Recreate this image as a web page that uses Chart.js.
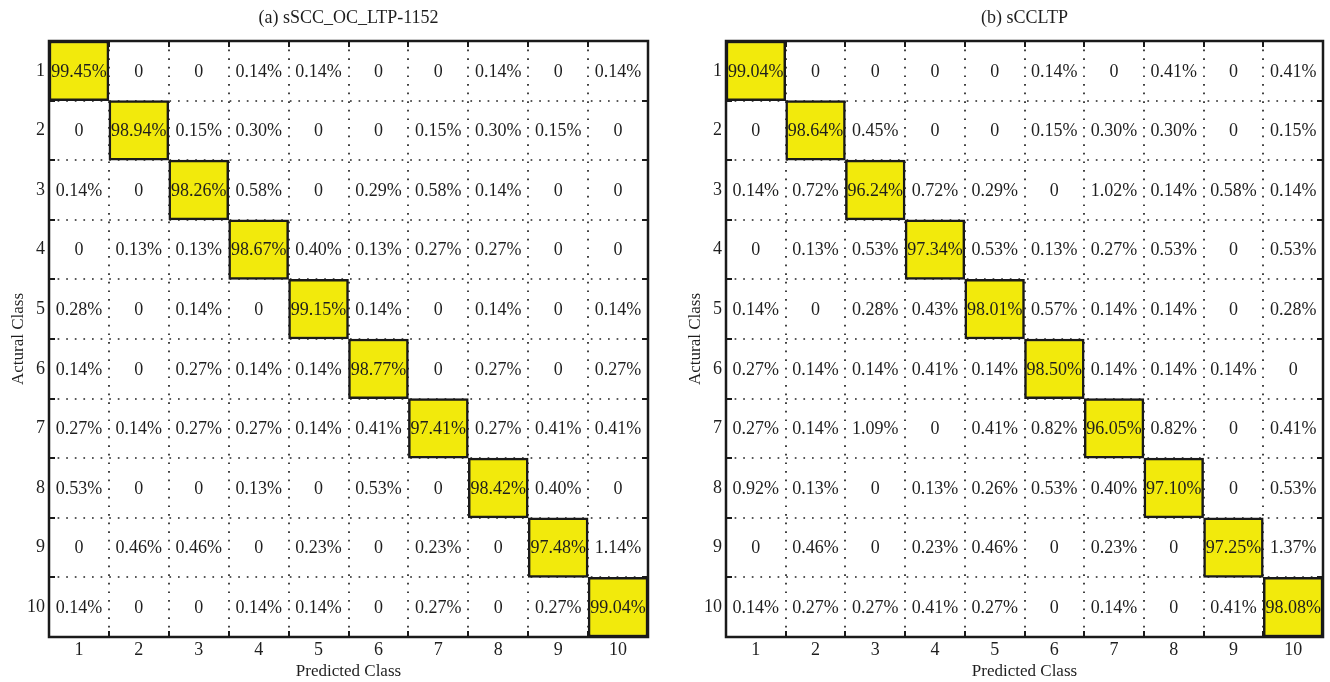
<!DOCTYPE html>
<html>
<head>
<meta charset="utf-8">
<script src="https://cdn.jsdelivr.net/npm/chart.js@4.4.1/dist/chart.umd.min.js"></script>
<style>
  html, body { margin: 0; padding: 0; background: #ffffff; }
  body { width: 1330px; height: 682px; position: relative; overflow: hidden; }
  .panel { position: absolute; top: 0; height: 682px; }
  #panelA { left: 0; width: 677px; }
  #panelB { left: 677px; width: 653px; }
</style>
</head>
<body>
<div class="panel" id="panelA"><canvas id="chartA"></canvas></div>
<div class="panel" id="panelB"><canvas id="chartB"></canvas></div>
<script>
// Class labels shared by both axes
const classLabels = ['1', '2', '3', '4', '5', '6', '7', '8', '9', '10'];

// Confusion matrix rows (actual class) x columns (predicted class), in percent
const matrixA = [
  [99.45, 0, 0, 0.14, 0.14, 0, 0, 0.14, 0, 0.14],
  [0, 98.94, 0.15, 0.30, 0, 0, 0.15, 0.30, 0.15, 0],
  [0.14, 0, 98.26, 0.58, 0, 0.29, 0.58, 0.14, 0, 0],
  [0, 0.13, 0.13, 98.67, 0.40, 0.13, 0.27, 0.27, 0, 0],
  [0.28, 0, 0.14, 0, 99.15, 0.14, 0, 0.14, 0, 0.14],
  [0.14, 0, 0.27, 0.14, 0.14, 98.77, 0, 0.27, 0, 0.27],
  [0.27, 0.14, 0.27, 0.27, 0.14, 0.41, 97.41, 0.27, 0.41, 0.41],
  [0.53, 0, 0, 0.13, 0, 0.53, 0, 98.42, 0.40, 0],
  [0, 0.46, 0.46, 0, 0.23, 0, 0.23, 0, 97.48, 1.14],
  [0.14, 0, 0, 0.14, 0.14, 0, 0.27, 0, 0.27, 99.04]
];

const matrixB = [
  [99.04, 0, 0, 0, 0, 0.14, 0, 0.41, 0, 0.41],
  [0, 98.64, 0.45, 0, 0, 0.15, 0.30, 0.30, 0, 0.15],
  [0.14, 0.72, 96.24, 0.72, 0.29, 0, 1.02, 0.14, 0.58, 0.14],
  [0, 0.13, 0.53, 97.34, 0.53, 0.13, 0.27, 0.53, 0, 0.53],
  [0.14, 0, 0.28, 0.43, 98.01, 0.57, 0.14, 0.14, 0, 0.28],
  [0.27, 0.14, 0.14, 0.41, 0.14, 98.50, 0.14, 0.14, 0.14, 0],
  [0.27, 0.14, 1.09, 0, 0.41, 0.82, 96.05, 0.82, 0, 0.41],
  [0.92, 0.13, 0, 0.13, 0.26, 0.53, 0.40, 97.10, 0, 0.53],
  [0, 0.46, 0, 0.23, 0.46, 0, 0.23, 0, 97.25, 1.37],
  [0.14, 0.27, 0.27, 0.41, 0.27, 0, 0.14, 0, 0.41, 98.08]
];

const titleA = '(a) sSCC_OC_LTP-1152';
const titleB = '(b) sCCLTP';
const xTitle = 'Predicted Class';
const yTitle = 'Actural Class';

const SERIF = '"Liberation Serif", "Times New Roman", serif';
const INK = '#1e1e1e';
const HIGHLIGHT = '#f2ea0c';

function fmt(v) {
  return v === 0 ? '0' : v.toFixed(2) + '%';
}

// Draws dotted cell boundaries, frame, inward ticks, cell values and the panel title
const matrixPlugin = {
  id: 'matrixPlugin',
  beforeDatasetsDraw(chart) {
    const { ctx, chartArea: a, scales: { x, y } } = chart;
    const n = classLabels.length;
    ctx.save();
    ctx.strokeStyle = '#222';
    ctx.lineWidth = 1.7;
    ctx.setLineDash([1.7, 6.9]);
    for (let k = 1; k < n; k++) {
      const px = Math.round(x.getPixelForValue(k + 0.5));
      ctx.beginPath();
      ctx.moveTo(px, a.top);
      ctx.lineTo(px, a.bottom);
      ctx.stroke();
      const py = Math.round(y.getPixelForValue(k + 0.5));
      ctx.beginPath();
      ctx.moveTo(a.left, py);
      ctx.lineTo(a.right, py);
      ctx.stroke();
    }
    ctx.restore();
  },
  afterDatasetsDraw(chart, args, opts) {
    const { ctx, chartArea: a, scales: { x, y } } = chart;
    const m = opts.matrix;
    const n = classLabels.length;
    ctx.save();
    // cell values
    ctx.fillStyle = INK;
    ctx.font = '18px ' + SERIF;
    ctx.textAlign = 'center';
    ctx.textBaseline = 'middle';
    for (let r = 0; r < n; r++) {
      for (let c = 0; c < n; c++) {
        ctx.fillText(fmt(m[r][c]), x.getPixelForValue(c + 1), y.getPixelForValue(r + 1) + 1);
      }
    }
    // inward ticks at cell boundaries
    ctx.strokeStyle = '#1a1a1a';
    ctx.lineWidth = 2;
    const t = 6;
    for (let k = 1; k < n; k++) {
      const px = Math.round(x.getPixelForValue(k + 0.5));
      const py = Math.round(y.getPixelForValue(k + 0.5));
      ctx.beginPath();
      ctx.moveTo(px, a.top); ctx.lineTo(px, a.top + t);
      ctx.moveTo(px, a.bottom); ctx.lineTo(px, a.bottom - t);
      ctx.moveTo(a.left, py); ctx.lineTo(a.left + t, py);
      ctx.moveTo(a.right, py); ctx.lineTo(a.right - t, py);
      ctx.stroke();
    }
    // frame
    ctx.lineWidth = 2.5;
    ctx.strokeRect(a.left, a.top, a.right - a.left, a.bottom - a.top);
    // panel title
    ctx.fillStyle = INK;
    ctx.font = '18px ' + SERIF;
    ctx.fillText(opts.title, (a.left + a.right) / 2, 18);
    ctx.restore();
  }
};

function buildChart(id, matrix, title, padRight) {
  const diag = classLabels.map((_, i) => ({ x: i + 1, y: [i + 0.5, i + 1.5], v: matrix[i][i] }));
  return new Chart(document.getElementById(id), {
    type: 'bar',
    data: {
      datasets: [{
        data: diag,
        backgroundColor: HIGHLIGHT,
        borderColor: '#1a1a1a',
        borderWidth: 2.5,
        borderSkipped: false,
        barPercentage: 1,
        categoryPercentage: 1
      }]
    },
    options: {
      responsive: true,
      maintainAspectRatio: false,
      animation: false,
      layout: { padding: { top: 41, right: padRight, bottom: 0, left: 0 } },
      plugins: {
        legend: { display: false },
        tooltip: { enabled: false },
        matrixPlugin: { matrix: matrix, title: title }
      },
      scales: {
        x: {
          type: 'linear',
          min: 0.5,
          max: 10.5,
          offset: false,
          grid: { display: false, drawTicks: false },
          border: { display: false },
          afterBuildTicks: (s) => { s.ticks = classLabels.map((_, i) => ({ value: i + 1 })); },
          afterFit: (s) => { s.height = 45; },
          ticks: {
            autoSkip: false,
            maxRotation: 0,
            padding: 2,
            color: INK,
            font: { family: SERIF, size: 18 },
            callback: (v) => classLabels[v - 1]
          },
          title: {
            display: true,
            text: xTitle,
            color: INK,
            font: { family: SERIF, size: 17 },
            padding: { top: 0, bottom: 0 }
          }
        },
        y: {
          type: 'linear',
          reverse: true,
          min: 0.5,
          max: 10.5,
          grid: { display: false, drawTicks: false },
          border: { display: false },
          afterBuildTicks: (s) => { s.ticks = classLabels.map((_, i) => ({ value: i + 1 })); },
          afterFit: (s) => { s.width = 49; },
          ticks: {
            autoSkip: false,
            padding: 4,
            color: INK,
            font: { family: SERIF, size: 18 },
            callback: (v) => classLabels[v - 1]
          },
          title: {
            display: true,
            text: yTitle,
            color: INK,
            font: { family: SERIF, size: 17 },
            padding: { top: 8, bottom: 0 }
          }
        }
      }
    },
    plugins: [matrixPlugin]
  });
}

buildChart('chartA', matrixA, titleA, 29);
buildChart('chartB', matrixB, titleB, 7);
</script>
</body>
</html>
